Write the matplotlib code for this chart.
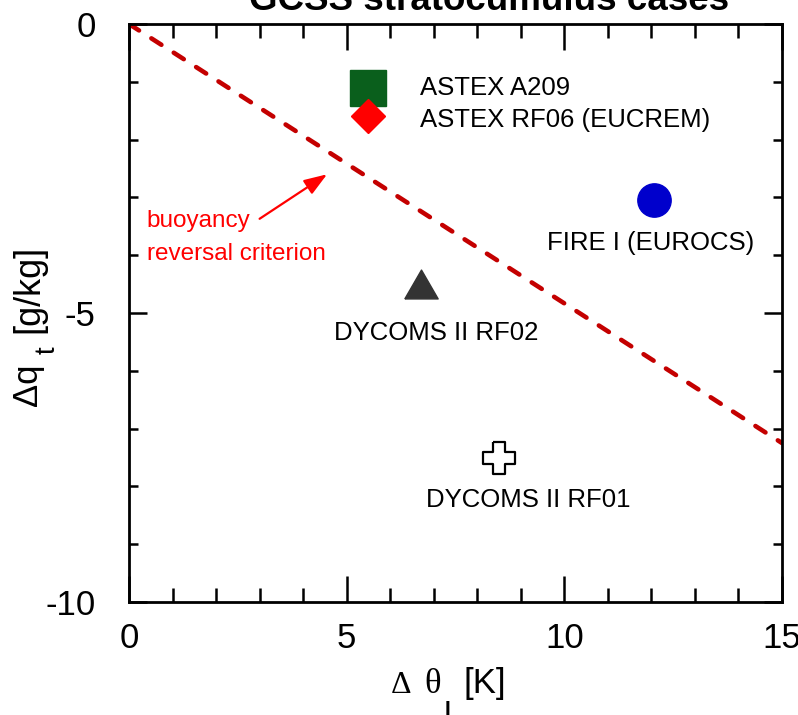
import matplotlib
matplotlib.use("Agg")
import matplotlib.pyplot as plt
from matplotlib.patches import ArrowStyle

plt.rcParams['font.family'] = ['Liberation Sans', 'DejaVu Sans']

# ---- data -------------------------------------------------------------
cases = ['ASTEX A209', 'ASTEX RF06 (EUCREM)', 'FIRE I (EUROCS)',
         'DYCOMS II RF02', 'DYCOMS II RF01']
delta_theta_l = [5.5, 5.5, 12.05, 6.7, 8.5]      # K
delta_q_t = [-1.1, -1.6, -3.05, -4.5, -7.5]      # g/kg

criterion_theta = [0.0, 15.0]
criterion_qt = [0.0, -7.25]

x_ticks = [0, 5, 10, 15]
y_ticks = [0, -5, -10]

# ---- marker styles --------------------------------------------------------
a = 0.18
plus_verts = [(-a, 0.5), (a, 0.5), (a, a), (0.5, a), (0.5, -a), (a, -a),
              (a, -0.5), (-a, -0.5), (-a, -a), (-0.5, -a), (-0.5, a), (-a, a),
              (-a, 0.5)]
tri_verts = [(-1, -0.866), (1, -0.866), (0, 0.866), (-1, -0.866)]

styles = [
    dict(marker='s', ms=26, mfc='#0a5f1c', mec='#0a5f1c', mew=1),
    dict(marker='D', ms=17, mfc='#ff0000', mec='#ff0000', mew=1),
    dict(marker='o', ms=24, mfc='#0000cc', mec='#0000cc', mew=1),
    dict(marker=tri_verts, ms=24, mfc='#333333', mec='#333333', mew=1),
    dict(marker=plus_verts, ms=23, mfc='white', mec='black', mew=1.6),
]
# label placement relative to each marker (points), alignment
label_pos = [
    ((37, 0), 'left'),
    ((37, -2.5), 'left'),
    ((-2, -31), 'center'),
    ((11, -35.5), 'center'),
    ((21, -30.5), 'center'),
]

W, H = 798, 715
fig = plt.figure(figsize=(W / 100, H / 100), dpi=100)
ax = fig.add_axes([129 / W, 1 - 602 / H, (782 - 129) / W, (602 - 24) / H])

# buoyancy reversal criterion
ax.plot(criterion_theta, criterion_qt, color='#c40000', lw=3.3,
        dashes=(2.6, 3.2), dash_capstyle='round', zorder=2)

for xv, yv, name, st, (off, ha) in zip(delta_theta_l, delta_q_t, cases,
                                       styles, label_pos):
    ax.plot([xv], [yv], ls='none', zorder=3, **st)
    ax.annotate(name, (xv, yv), xytext=off, textcoords='offset points',
                ha=ha, va='center', fontsize=18.5, color='black')

# arrow and label for the criterion line
ax.annotate('', xy=(4.55, -2.6), xytext=(3.0, -3.37),
            arrowprops=dict(arrowstyle=ArrowStyle('-|>', head_length=1.4,
                                                  head_width=0.5),
                            color='#ff0000', lw=1.6, shrinkA=0, shrinkB=0,
                            mutation_scale=10))
ax.text(0.41, -3.51, 'buoyancy', color='#ff0000', fontsize=17.5,
        ha='left', va='baseline')
ax.text(0.41, -4.08, 'reversal criterion', color='#ff0000', fontsize=17.5,
        ha='left', va='baseline')

# axes formatting
ax.set_xlim(0, 15)
ax.set_ylim(-10, 0)
ax.set_xticks(x_ticks)
ax.set_yticks(y_ticks)
ax.set_xticklabels([str(t) for t in x_ticks])
ax.set_yticklabels([str(t) for t in y_ticks])
ax.set_xticks(range(0, 16), minor=True)
ax.set_yticks(range(-10, 1), minor=True)
ax.tick_params(axis='both', which='both', direction='in', top=True,
               right=True, width=1.8, labelsize=25, colors='black')
ax.tick_params(axis='x', which='major', length=19, pad=14.5)
ax.tick_params(axis='x', which='minor', length=10)
ax.tick_params(axis='y', which='major', length=13, pad=24)
ax.tick_params(axis='y', which='minor', length=6.5)
for sp in ax.spines.values():
    sp.set_linewidth(2)


def fx(px):
    return px / W


def fy(py):
    return 1 - py / H


# title (sits at the very top edge)
fig.text(fx(489), fy(10), 'GCSS stratocumulus cases', ha='center',
         va='baseline', fontsize=26.5, fontweight='bold')

# x label: Δ θ_l [K]
fig.text(fx(391), fy(693), 'Δ', family='Liberation Serif', fontsize=23,
         ha='left', va='baseline')
fig.text(fx(424), fy(693), 'θ', family='Liberation Serif', fontsize=25,
         ha='left', va='baseline')
fig.text(fx(444), fy(727), 'l', fontsize=25, ha='left', va='baseline')
fig.text(fx(463), fy(693), '[K]', fontsize=25, ha='left', va='baseline')

# y label: Δq_t [g/kg]
fig.text(fx(37), fy(406), 'Δq', fontsize=25, rotation=90,
         rotation_mode='anchor', ha='left', va='baseline')
fig.text(fx(55), fy(354), 't', fontsize=20, rotation=90,
         rotation_mode='anchor', ha='left', va='baseline')
fig.text(fx(38), fy(333), '[g/kg]', fontsize=26, rotation=90,
         rotation_mode='anchor', ha='left', va='baseline')

fig.savefig('out.png', dpi=100)
